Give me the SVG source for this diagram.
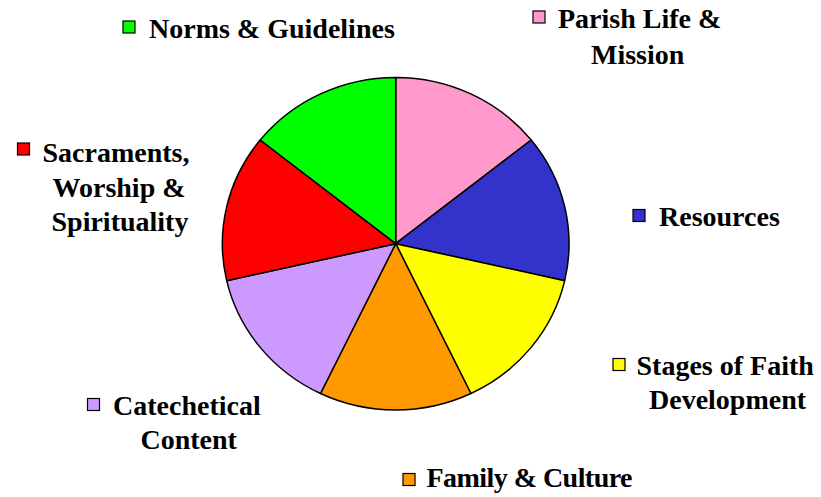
<svg xmlns="http://www.w3.org/2000/svg" width="821" height="497" viewBox="0 0 821 497">
<style>
.s{stroke:#000;stroke-width:1.5;stroke-linejoin:round}
.k{stroke:#000;stroke-width:1.2}
</style>
<rect width="821" height="497" fill="#fff"/>
<g id="pie">
<g id="slice-parish"><path class="s" fill="#FF99CC" d="M395.7,243.7 L395.7,77.4 A173.3,166.3 0 0 1 531.2,140 Z"/></g>
<g id="slice-resources"><path class="s" fill="#3333CC" d="M395.7,243.7 L531.2,140 A173.3,166.3 0 0 1 564.7,280.7 Z"/></g>
<g id="slice-stages"><path class="s" fill="#FFFF00" d="M395.7,243.7 L564.7,280.7 A173.3,166.3 0 0 1 470.9,393.5 Z"/></g>
<g id="slice-family"><path class="s" fill="#FF9900" d="M395.7,243.7 L470.9,393.5 A173.3,166.3 0 0 1 320.5,393.5 Z"/></g>
<g id="slice-catechetical"><path class="s" fill="#CC99FF" d="M395.7,243.7 L320.5,393.5 A173.3,166.3 0 0 1 226.7,280.7 Z"/></g>
<g id="slice-sacraments"><path class="s" fill="#FF0000" d="M395.7,243.7 L226.7,280.7 A173.3,166.3 0 0 1 260.2,140 Z"/></g>
<g id="slice-norms"><path class="s" fill="#00FF00" d="M395.7,243.7 L260.2,140 A173.3,166.3 0 0 1 395.7,77.4 Z"/></g>
</g>
<g id="connectors"></g>
<g id="legend" font-family="'Liberation Serif', 'Times New Roman', serif" font-weight="bold" font-size="28" fill="#000">
<g id="lg-norms"><rect class="k" x="123" y="21" width="12" height="12" fill="#00FF00"/><text x="149" y="37.5">Norms &amp; Guidelines</text></g>
<g id="lg-parish"><rect class="k" x="533" y="11" width="12" height="12" fill="#FF99CC"/><text x="558" y="27.5">Parish Life &amp;</text><text x="591" y="63.5">Mission</text></g>
<g id="lg-sacraments"><rect class="k" x="17.5" y="143" width="12" height="12" fill="#FF0000"/><text x="42.5" y="161.5">Sacraments,</text><text x="52.5" y="196.5">Worship &amp;</text><text x="51.5" y="230.5">Spirituality</text></g>
<g id="lg-resources"><rect class="k" x="633" y="209.5" width="12" height="12" fill="#3333CC"/><text x="659" y="226">Resources</text></g>
<g id="lg-stages"><rect class="k" x="613" y="358.5" width="12" height="12" fill="#FFFF00"/><text x="636.5" y="374.5">Stages of Faith</text><text x="649" y="408.5">Development</text></g>
<g id="lg-catechetical"><rect class="k" x="87.5" y="398.5" width="12" height="12" fill="#CC99FF"/><text x="113" y="414.5">Catechetical</text><text x="140.5" y="448.5">Content</text></g>
<g id="lg-family"><rect class="k" x="403" y="473.5" width="12" height="12" fill="#FF9900"/><text x="426.5" y="486.5" textLength="206" lengthAdjust="spacing">Family &amp; Culture</text></g>
</g>
</svg>
